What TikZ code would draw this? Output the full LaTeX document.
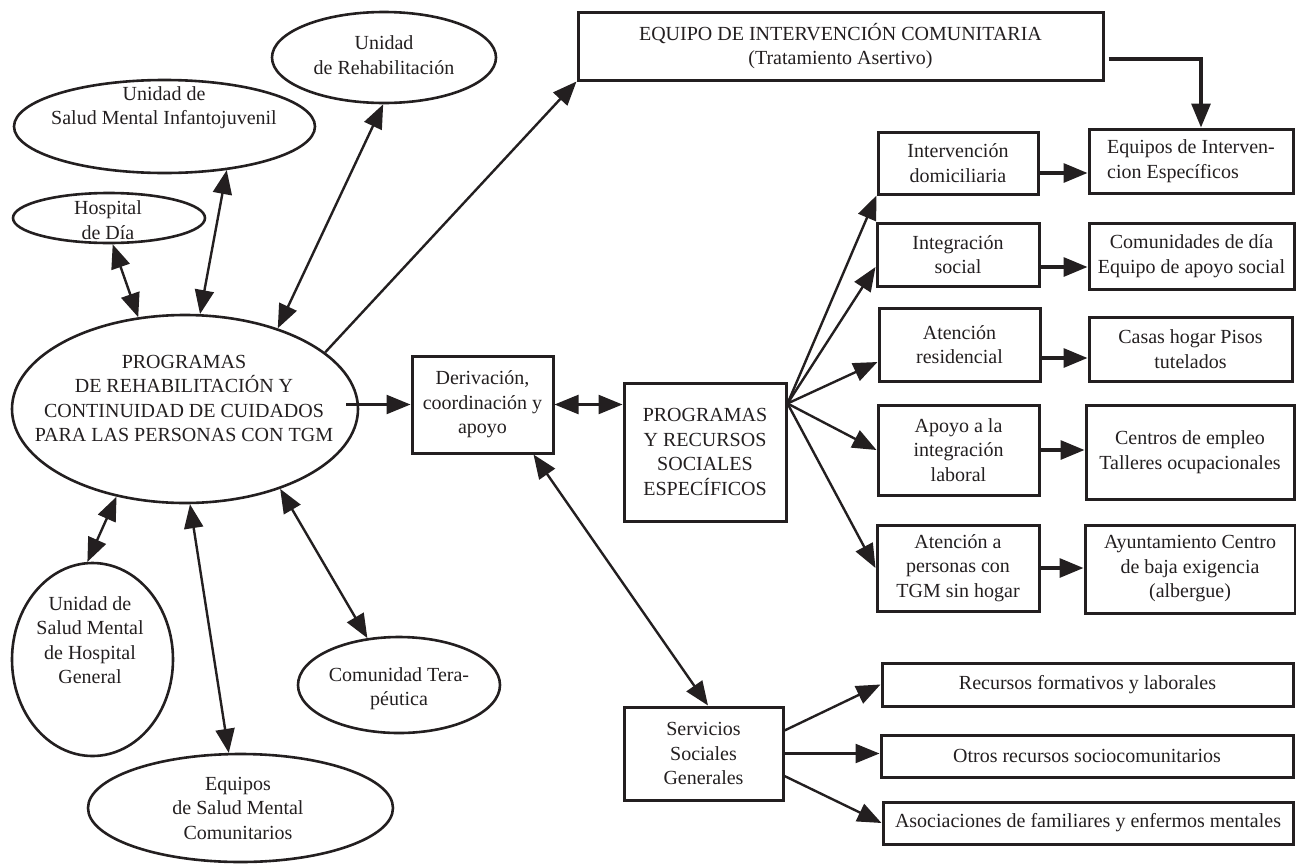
\documentclass[tikz,border=0pt]{standalone}
\usepackage{fontspec}
\setmainfont{Liberation Serif}
\usetikzlibrary{arrows.meta,shapes.geometric,calc}
\definecolor{ink}{RGB}{35,31,32}
\begin{document}
\begin{tikzpicture}[x=1pt,y=-1pt,
  every node/.style={font=\fontsize{20}{24.5}\selectfont, text=ink},
  box/.style={draw=ink, line width=3pt, inner sep=0pt, align=center, rectangle},
  ell/.style={draw=ink, line width=2.6pt, ellipse, inner sep=0pt},
  txt/.style={align=center, inner sep=0pt},
  arr/.style={draw=ink, line width=2.4pt, -{Triangle[length=24pt,width=19pt]}},
  harr/.style={draw=ink, line width=3.2pt, -{Triangle[length=24pt,width=19pt]}},
  darr/.style={draw=ink, line width=2.4pt, {Triangle[length=24pt,width=19pt]}-{Triangle[length=24pt,width=19pt]}},
]
\useasboundingbox (0,0) rectangle (1296,865);

% ellipses
\node[ell, minimum width=224pt, minimum height=91pt] (rehab) at (384,57.5) {};
\node[txt] (rehabT) at (384,55) {Unidad\\de Rehabilitación};
\node[ell, minimum width=301pt, minimum height=93pt] (infanto) at (164.5,126.5) {};
\node[txt] (infantoT) at (164,107.5) {Unidad de\\Salud Mental Infantojuvenil};
\node[ell, minimum width=192pt, minimum height=50pt] (hdia) at (109,218) {};
\node[txt] (hdiaT) at (108,220) {Hospital\\de Día};
\node[ell, minimum width=346pt, minimum height=188pt] (prog) at (185,409) {};
\node[txt] (progT) at (184,398.5) {PROGRAMAS\\DE REHABILITACIÓN Y\\CONTINUIDAD DE CUIDADOS\\PARA LAS PERSONAS CON TGM};
\node[ell, minimum width=161pt, minimum height=193pt] (hgen) at (92.5,659.5) {};
\node[txt] (hgenT) at (90,640) {Unidad de\\Salud Mental\\de Hospital\\General};
\node[ell, minimum width=305pt, minimum height=108pt] (eqsm) at (240.5,808) {};
\node[txt] (eqsmT) at (238,808) {Equipos\\de Salud Mental\\Comunitarios};
\node[ell, minimum width=202pt, minimum height=96pt] (comt) at (399,685) {};
\node[txt] (comtT) at (399,688.5) {Comunidad Tera-\\péutica};

% boxes
\node[box, minimum width=525pt, minimum height=68pt] (equipo) at (840.5,46) {EQUIPO DE INTERVENCIÓN COMUNITARIA\\(Tratamiento Asertivo)};
\node[box, minimum width=204pt, minimum height=64pt, align=left] (eqint) at (1191,161) {Equipos de Interven-\\cion Específicos};
\node[box, minimum width=160pt, minimum height=62pt] (intdom) at (958,163) {Intervención\\domiciliaria};
\node[box, minimum width=162pt, minimum height=63pt] (integ) at (958,254.5) {Integración\\social};
\node[box, minimum width=205pt, minimum height=66pt] (comdia) at (1191.5,256) {Comunidades de día\\Equipo de apoyo social};
\node[box, minimum width=161pt, minimum height=73pt] (atres) at (959.5,344.5) {Atención\\residencial};
\node[box, minimum width=203pt, minimum height=64pt] (casas) at (1190.5,349) {Casas hogar Pisos\\tutelados};
\node[box, minimum width=161pt, minimum height=90pt] (apoyo) at (958.5,450) {Apoyo a la\\integración\\laboral};
\node[box, minimum width=208pt, minimum height=94pt] (centros) at (1190,452) {Centros de empleo\\Talleres ocupacionales};
\node[box, minimum width=162pt, minimum height=86pt] (atpers) at (958,568) {Atención a\\personas con\\TGM sin hogar};
\node[box, minimum width=210pt, minimum height=88pt] (ayunt) at (1190,569) {Ayuntamiento Centro\\de baja exigencia\\(albergue)};
\node[box, minimum width=141pt, minimum height=97pt] (deriv) at (482.5,404.5) {Derivación,\\coordinación y\\apoyo};
\node[box, minimum width=162pt, minimum height=138pt] (hub) at (705,452) {PROGRAMAS\\Y RECURSOS\\SOCIALES\\ESPECÍFICOS};
\node[box, minimum width=159pt, minimum height=93pt] (serv) at (703.5,753.5) {Servicios\\Sociales\\Generales};
\node[box, minimum width=411pt, minimum height=43pt] (recform) at (1087.5,684.5) {Recursos formativos y laborales};
\node[box, minimum width=412pt, minimum height=42pt] (otros) at (1087,756) {Otros recursos sociocomunitarios};
\node[box, minimum width=410pt, minimum height=42pt] (asoc) at (1088,823) {Asociaciones de familiares y enfermos mentales};

% ellipse connectors
\draw[darr] (hdia.-82) -- (prog.117);
\draw[darr] (infanto.-35) -- (prog.81);
\draw[darr] (rehab.-91) -- (prog.41);
\draw[arr] (prog.22) -- (equipo.south west);
\draw[darr] (hgen.93) -- (prog.-128.5);
\draw[darr] (eqsm.102) -- (prog.273);
\draw[darr] (comt.124) -- (prog.-40);

% central
\coordinate (pstart) at ($(prog.east |- deriv.west)+(-13,0)$);
\draw[arr] (pstart) -- (deriv.west);
\draw[darr] (deriv.east) -- (deriv.east -| hub.west);
\draw[darr] ($(deriv.south east)+(-21,0)$) -- ($(serv.north)+(4.5,0)$);

% fan
\coordinate (hs) at ($(hub.north east)+(0,22)$);
\draw[arr] (hs) -- (intdom.south west);
\draw[arr] (hs) -- ($(integ.west)+(0,12.5)$);
\draw[arr] (hs) -- ($(atres.west)+(0,17.5)$);
\draw[arr] (hs) -- (apoyo.west);
\draw[arr] (hs) -- (atpers.west);

% horizontals
\coordinate (h1) at ($(intdom.east)+(0,10)$);
\draw[harr] (h1) -- (h1 -| eqint.west);
\coordinate (h2) at ($(integ.east)+(0,12.5)$);
\draw[harr] (h2) -- (h2 -| comdia.west);
\coordinate (h3) at ($(atres.east)+(0,13.5)$);
\draw[harr] (h3) -- (h3 -| casas.west);
\draw[harr] (apoyo.east) -- (apoyo.east -| centros.west);
\draw[harr] (atpers.east) -- (atpers.east -| ayunt.west);

\coordinate (e1) at ($(equipo.east)+(4,13)$);
\draw[harr] (e1) -| ($(eqint.north)+(10,0)$);

% servicios
\draw[arr] ($(serv.east)+(0,-23)$) -- (recform.west);
\draw[arr] (serv.east) -- (serv.east -| otros.west);
\draw[arr] ($(serv.east)+(0,22.5)$) -- (asoc.west);
\end{tikzpicture}
\end{document}
